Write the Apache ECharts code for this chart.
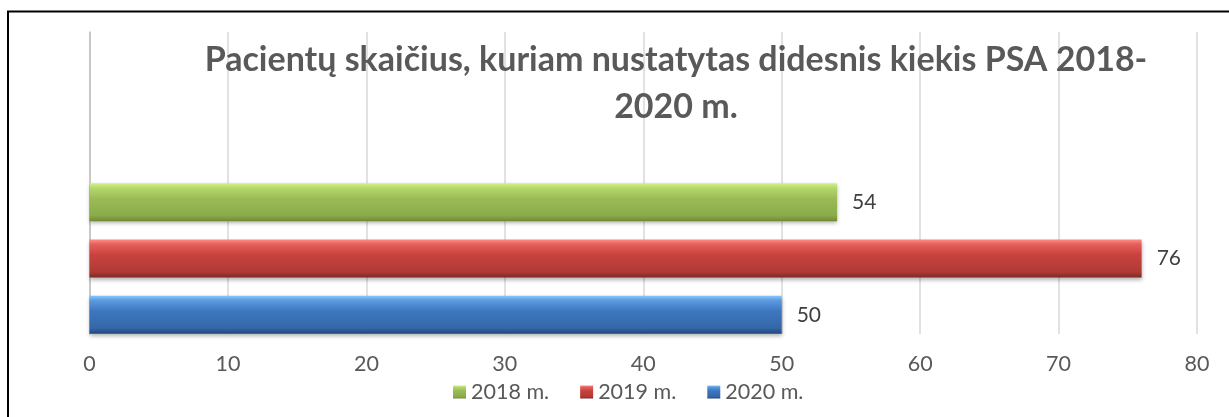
<!DOCTYPE html>
<html>
<head>
<meta charset="utf-8">
<script src="https://cdn.jsdelivr.net/npm/echarts@6/dist/echarts.min.js"></script>
<style>
html,body{margin:0;padding:0;background:#fff;}
#chart{width:1229px;height:417px;}
</style>
</head>
<body>
<div id="chart"></div>
<script>
// ---- data ----
const titleText = 'Pacientų skaičius, kuriam nustatytas didesnis kiekis PSA 2018-\n2020 m.';
const seriesNames = ['2018 m.', '2019 m.', '2020 m.'];
const seriesValues = [54, 76, 50];
const categories = ['PSA', ' '];   // second category left empty (space above the bars)
const xTicks = [0, 10, 20, 30, 40, 50, 60, 70, 80];

// ---- styles ----
const gradients = [
  ['#d2f288', '#b5d96a', '#9bbb59', '#8aab48', '#6e8a35'],
  ['#ff8d8a', '#e8605c', '#c8423e', '#b03a36', '#7e2826'],
  ['#8cc6ff', '#5c9be0', '#3d77c0', '#3567a8', '#22467a']
];
function grad(c) {
  return new echarts.graphic.LinearGradient(0, 0, 0, 1, [
    {offset: 0, color: c[0]},
    {offset: 0.12, color: c[1]},
    {offset: 0.4, color: c[2]},
    {offset: 0.85, color: c[3]},
    {offset: 1, color: c[4]}
  ]);
}
const FONT = 'Lato';

const chart = echarts.init(document.getElementById('chart'), null, {renderer: 'canvas'});
const option = {
  animation: false,
  backgroundColor: '#fff',
  title: {
    text: titleText,
    left: 676,
    top: 37,
    padding: 0,
    textAlign: 'center',
    textStyle: {
      fontFamily: FONT, fontWeight: 'bold', fontSize: 34,
      color: '#595959', lineHeight: 47, align: 'center'
    }
  },
  legend: {
    data: seriesNames,
    left: 448,
    top: 376,
    itemWidth: 13,
    itemHeight: 13,
    itemGap: 31,
    icon: 'rect',
    textStyle: {fontFamily: FONT, fontSize: 21.5, color: '#595959'}
  },
  grid: {left: 89.5, right: 32, top: 32, bottom: 83, containLabel: false},
  xAxis: {
    type: 'value',
    min: xTicks[0],
    max: xTicks[xTicks.length - 1],
    interval: xTicks[1] - xTicks[0],
    axisLine: {show: false},
    axisTick: {show: false},
    splitLine: {show: true, lineStyle: {color: '#d9d9d9', width: 1.5}},
    axisLabel: {fontFamily: FONT, fontSize: 21.5, color: '#595959', margin: 19}
  },
  yAxis: {
    type: 'category',
    data: categories,
    axisLine: {show: true, lineStyle: {color: '#bfbfbf', width: 1.5}},
    axisTick: {show: false},
    axisLabel: {show: false},
    splitLine: {show: false}
  },
  series: seriesNames.map((name, i) => ({
    name: name,
    type: 'bar',
    barWidth: 38,
    barGap: '48%',
    data: [seriesValues[i]],
    itemStyle: {
      color: grad(gradients[i]),
      shadowColor: 'rgba(0,0,0,0.3)',
      shadowBlur: 4,
      shadowOffsetY: 2
    },
    label: {
      show: true,
      position: 'right',
      distance: 15,
      fontFamily: FONT,
      fontSize: 21,
      color: '#404040'
    }
  })),
  graphic: [{
    type: 'rect',
    shape: {x: 8, y: 11.5, width: 1240, height: 420},
    style: {fill: 'none', stroke: '#000', lineWidth: 2},
    silent: true,
    z: 100
  }]
};
chart.setOption(option);
</script>
</body>
</html>
